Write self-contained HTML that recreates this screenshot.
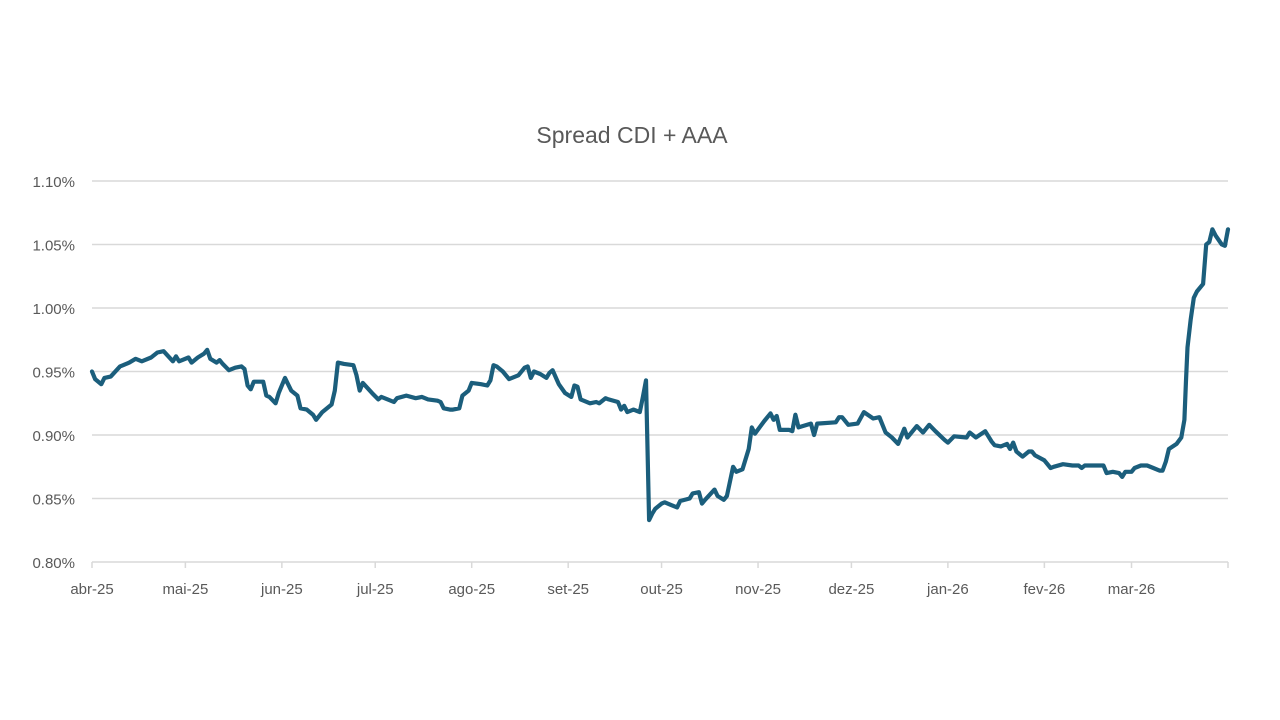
<!DOCTYPE html>
<html><head><meta charset="utf-8"><style>
html,body{margin:0;padding:0;background:#fff;}
svg{display:block;font-family:"Liberation Sans",sans-serif;}
</style></head><body>
<svg id="chart" width="1280" height="720">
<text x="632" y="143" text-anchor="middle" font-size="23" fill="#595959">Spread CDI + AAA</text>
<g id="grid"></g><g id="yticks"></g><g id="xticks"></g><g id="series"></g>
</svg>
<script>
const days=[0,1,3,4,6,9,10,12,14,16,19,21,23,26,27,28,31,32,34,36,37,38,40,41,42,44,46,48,49,50,51,52,55,56,57,59,60,62,64,66,67,69,71,72,74,77,78,79,81,84,85,86,87,90,92,93,95,97,98,101,104,106,108,111,112,113,115,116,118,119,121,122,125,127,128,129,130,132,134,136,137,139,140,141,142,144,146,147,148,150,152,154,155,156,157,158,160,162,163,165,166,169,170,171,172,174,176,177,178,179,180,181,183,184,186,188,189,192,193,195,196,197,200,201,203,204,206,207,209,211,212,213,216,218,219,220,221,224,225,226,227,231,232,233,239,240,241,243,246,248,251,253,255,257,259,261,262,265,267,269,271,274,275,277,281,282,284,287,289,290,292,294,295,296,297,298,299,301,302,303,306,308,309,312,315,317,318,319,325,326,328,330,331,332,334,335,337,339,341,343,344,345,346,348.5,350,351,351.5,352,353,354,355,357,358,359,360,361,363,364,365];
const values=[0.950,0.944,0.940,0.945,0.946,0.954,0.955,0.957,0.960,0.958,0.961,0.965,0.966,0.958,0.962,0.958,0.961,0.957,0.961,0.964,0.967,0.960,0.957,0.959,0.956,0.951,0.953,0.954,0.952,0.939,0.936,0.942,0.942,0.931,0.930,0.925,0.933,0.945,0.935,0.931,0.921,0.920,0.916,0.912,0.918,0.924,0.935,0.957,0.956,0.955,0.947,0.935,0.941,0.933,0.928,0.930,0.928,0.926,0.929,0.931,0.929,0.930,0.928,0.927,0.926,0.921,0.920,0.920,0.921,0.931,0.935,0.941,0.940,0.939,0.943,0.955,0.954,0.950,0.944,0.946,0.947,0.953,0.954,0.945,0.950,0.948,0.945,0.949,0.951,0.940,0.933,0.930,0.939,0.938,0.928,0.927,0.925,0.926,0.925,0.929,0.928,0.926,0.920,0.923,0.918,0.920,0.918,0.930,0.943,0.833,0.838,0.842,0.846,0.847,0.845,0.843,0.848,0.850,0.854,0.855,0.846,0.849,0.857,0.852,0.849,0.852,0.875,0.871,0.873,0.889,0.906,0.901,0.911,0.917,0.912,0.915,0.904,0.904,0.903,0.916,0.906,0.909,0.900,0.909,0.910,0.914,0.914,0.908,0.909,0.918,0.913,0.914,0.902,0.898,0.893,0.905,0.898,0.907,0.902,0.908,0.903,0.896,0.894,0.899,0.898,0.902,0.898,0.903,0.895,0.892,0.891,0.893,0.889,0.894,0.887,0.885,0.883,0.887,0.887,0.884,0.880,0.874,0.875,0.877,0.876,0.876,0.874,0.876,0.876,0.870,0.871,0.870,0.867,0.871,0.871,0.874,0.876,0.876,0.874,0.872,0.872,0.879,0.889,0.893,0.898,0.912,0.943,0.969,0.991,1.008,1.013,1.019,1.050,1.052,1.062,1.057,1.050,1.049,1.062];
const yTicks=[0.80,0.85,0.90,0.95,1.00,1.05,1.10];
const xLabels=["abr-25","mai-25","jun-25","jul-25","ago-25","set-25","out-25","nov-25","dez-25","jan-26","fev-26","mar-26"];
const xLabelDays=[0,30,61,91,122,153,183,214,244,275,306,334];
const NS="http://www.w3.org/2000/svg";
const X0=92,X1=1228,Y0=562,Y1=181,DMAX=365,VMIN=0.80,VMAX=1.10;
const xs=d=>X0+(d/DMAX)*(X1-X0);
const ys=v=>Y0-(v-VMIN)/(VMAX-VMIN)*(Y0-Y1);
function mk(tag,attrs,parent){const e=document.createElementNS(NS,tag);for(const k in attrs)e.setAttribute(k,attrs[k]);parent.appendChild(e);return e;}
const grid=document.getElementById('grid'),yt=document.getElementById('yticks'),xt=document.getElementById('xticks'),ser=document.getElementById('series');
yTicks.forEach(v=>{
  const l=mk('line',{x1:X0,x2:X1,y1:ys(v),y2:ys(v),stroke:'#d9d9d9','stroke-width':1.5},grid);
  
  
  const t=mk('text',{x:75,y:ys(v)+6,'text-anchor':'end','font-size':15,fill:'#595959'},yt);
  t.textContent=v.toFixed(2)+'%';
  
  
});
xLabels.forEach((s,i)=>{
  const x=xs(xLabelDays[i]);
  const tk=mk('line',{x1:x,x2:x,y1:Y0,y2:Y0+6,stroke:'#d9d9d9','stroke-width':1.5},xt);
  
  
  const t=mk('text',{x:x,y:594,'text-anchor':'middle','font-size':15,fill:'#595959'},xt);
  t.textContent=s;
  
  
});
const endTick=mk('line',{x1:X1,x2:X1,y1:Y0,y2:Y0+6,stroke:'#d9d9d9','stroke-width':1.5},xt);


const pts=days.map((d,i)=>xs(d).toFixed(1)+','+ys(values[i]).toFixed(1)).join(' ');
const line=mk('polyline',{points:pts,fill:'none',stroke:'#1b5e7c','stroke-width':4.2,'stroke-linejoin':'round','stroke-linecap':'round'},ser);


</script>
</body></html>
